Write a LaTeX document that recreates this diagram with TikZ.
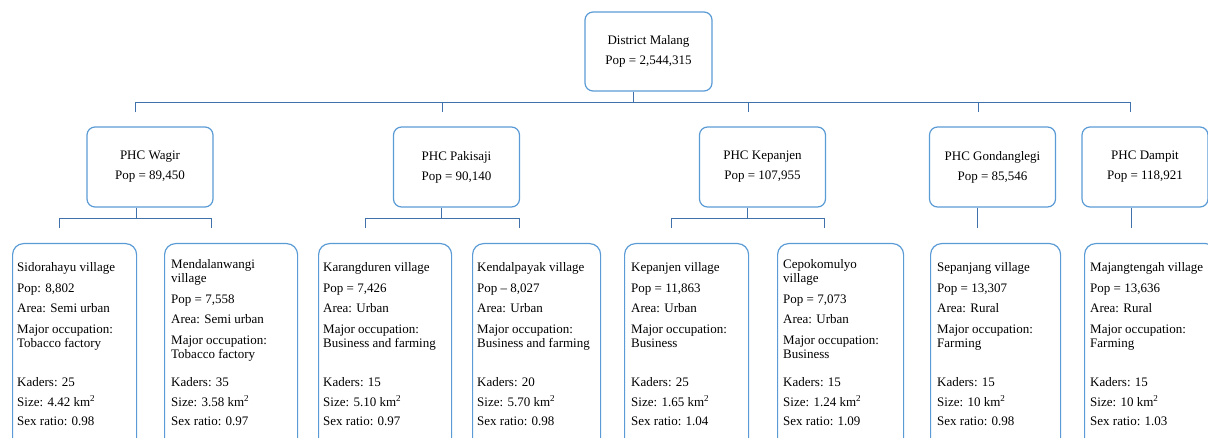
\documentclass[tikz,border=0pt]{standalone}
\usepackage{fontspec}
\setmainfont{Liberation Serif}
\usetikzlibrary{positioning}
\definecolor{boxblue}{RGB}{91,155,213}
\definecolor{linkblue}{RGB}{65,113,170}
\tikzset{
x=1pt, y=-1pt, % one unit is one pixel of the page, y runs downwards
unit/.style={draw=boxblue, line width=1.2pt, rounded corners=8pt, align=center, inner sep=0pt, minimum width=126pt, minimum height=80pt, font=\fontsize{13}{14.5}\selectfont}, % district and PHC boxes
village/.style={draw=boxblue, line width=1.2pt, rounded corners=11pt, anchor=north west, inner sep=0pt, minimum height=210pt}, % village boxes, cut off at the bottom
info/.style={anchor=north west, inner sep=0pt, align=left, font=\fontsize{13}{14.5}\selectfont}, % text inside a village box
link/.style={draw=linkblue, line width=1.1pt}, % the connecting lines
}

\begin{document}
\begin{tikzpicture}
    \useasboundingbox (0,0) rectangle (1208,438);
    \clip (0,0) rectangle (1208,438);

    \node[unit, minimum width=127pt, minimum height=79pt] (dm) at (648.5,51.5) {District Malang\\[5.5pt]Pop = 2,544,315};

    \node[unit] (wagir) at (150,167) {PHC Wagir\\[5.5pt]Pop = 89,450};
    \node[unit] (paki) at (456.5,167) {PHC Pakisaji\\[5.5pt]Pop = 90,140};
    \node[unit] (kepa) at (762.5,167) {PHC Kepanjen\\[5.5pt]Pop = 107,955};
    \node[unit] (gond) at (992.5,167) {PHC Gondanglegi\\[5.5pt]Pop = 85,546};
    \node[unit] (damp) at (1145,167) {PHC Dampit\\[5.5pt]Pop = 118,921};

    \node[village, minimum width=124pt] (sido) at (12,243) {};
    \node[village, minimum width=133pt] (menda) at (164,243) {};
    \node[village, minimum width=133pt] (karang) at (318,243) {};
    \node[village, minimum width=128pt] (kendal) at (472,243) {};
    \node[village, minimum width=124pt] (kepv) at (624,243) {};
    \node[village, minimum width=126pt] (cepo) at (777,243) {};
    \node[village, minimum width=130pt] (sepa) at (930,243) {};
    \node[village, minimum width=132pt] (majang) at (1084,243) {};

    % upper part of each village box
    \node[info, below right=19.3pt and 5pt of sido.north west] (sidoinfo) {Sidorahayu village\\[6pt]Pop: 8,802\\[6pt]Area: Semi urban\\[6pt]Major occupation:\\Tobacco factory};
    \node[info, below right=15.8pt and 7pt of menda.north west] (mendainfo) {Mendalanwangi\\village\\[6pt]Pop = 7,558\\[6pt]Area: Semi urban\\[6pt]Major occupation:\\Tobacco factory};
    \node[info, below right=19.3pt and 5pt of karang.north west] (karanginfo) {Karangduren village\\[6pt]Pop = 7,426\\[6pt]Area: Urban\\[6pt]Major occupation:\\Business and farming};
    \node[info, below right=19.3pt and 5pt of kendal.north west] (kendalinfo) {Kendalpayak village\\[6pt]Pop – 8,027\\[6pt]Area: Urban\\[6pt]Major occupation:\\Business and farming};
    \node[info, below right=19.3pt and 7pt of kepv.north west] (kepvinfo) {Kepanjen village\\[6pt]Pop = 11,863\\[6pt]Area: Urban\\[6pt]Major occupation:\\Business};
    \node[info, below right=15.8pt and 6pt of cepo.north west] (cepoinfo) {Cepokomulyo\\village\\[6pt]Pop = 7,073\\[6pt]Area: Urban\\[6pt]Major occupation:\\Business};
    \node[info, below right=19.3pt and 7pt of sepa.north west] (sepainfo) {Sepanjang village\\[6pt]Pop = 13,307\\[6pt]Area: Rural\\[6pt]Major occupation:\\Farming};
    \node[info, below right=19.3pt and 6pt of majang.north west] (majanginfo) {Majangtengah village\\[6pt]Pop = 13,636\\[6pt]Area: Rural\\[6pt]Major occupation:\\Farming};

    % lower part of each village box
    \node[info, below right=134.3pt and 5pt of sido.north west] (sidostats) {Kaders: 25\\[5pt]Size: 4.42 km\textsuperscript{2}\\[5pt]Sex ratio: 0.98};
    \node[info, below right=134.3pt and 7pt of menda.north west] (mendastats) {Kaders: 35\\[5pt]Size: 3.58 km\textsuperscript{2}\\[5pt]Sex ratio: 0.97};
    \node[info, below right=134.3pt and 5pt of karang.north west] (karangstats) {Kaders: 15\\[5pt]Size: 5.10 km\textsuperscript{2}\\[5pt]Sex ratio: 0.97};
    \node[info, below right=134.3pt and 5pt of kendal.north west] (kendalstats) {Kaders: 20\\[5pt]Size: 5.70 km\textsuperscript{2}\\[5pt]Sex ratio: 0.98};
    \node[info, below right=134.3pt and 7pt of kepv.north west] (kepvstats) {Kaders: 25\\[5pt]Size: 1.65 km\textsuperscript{2}\\[5pt]Sex ratio: 1.04};
    \node[info, below right=134.3pt and 6pt of cepo.north west] (cepostats) {Kaders: 15\\[5pt]Size: 1.24 km\textsuperscript{2}\\[5pt]Sex ratio: 1.09};
    \node[info, below right=134.3pt and 7pt of sepa.north west] (sepastats) {Kaders: 15\\[5pt]Size: 10 km\textsuperscript{2}\\[5pt]Sex ratio: 0.98};
    \node[info, below right=134.3pt and 6pt of majang.north west] (majangstats) {Kaders: 15\\[5pt]Size: 10 km\textsuperscript{2}\\[5pt]Sex ratio: 1.03};

    % free ends of the drops, above each box
    \foreach \b in {wagir, paki, kepa, gond, damp}
        \coordinate (\b-in) at ([xshift=49.5pt, yshift=14pt]\b.north west);
    \foreach \b in {sido, menda, karang, kendal, kepv, cepo, sepa, majang}
        \coordinate (\b-in) at ([xshift=47.5pt, yshift=15pt]\b.north west);

    \draw[link] ([xshift=49pt]dm.south west) -- ++(0,11) coordinate (bus);
    \draw[link] (wagir-in) -- (wagir-in |- bus) -- (damp-in |- bus) -- (damp-in);
    \draw[link] (paki-in |- bus) -- (paki-in);
    \draw[link] (kepa-in |- bus) -- (kepa-in);
    \draw[link] (gond-in |- bus) -- (gond-in);

    \draw[link] ([xshift=50pt]wagir.south west) -- ++(0,11) coordinate (wagirbus);
    \draw[link] (sido-in) -- (sido-in |- wagirbus) -- (menda-in |- wagirbus) -- (menda-in);
    \draw[link] ([xshift=49pt]paki.south west) -- ++(0,11) coordinate (pakibus);
    \draw[link] (karang-in) -- (karang-in |- pakibus) -- (kendal-in |- pakibus) -- (kendal-in);
    \draw[link] ([xshift=49pt]kepa.south west) -- ++(0,11) coordinate (kepabus);
    \draw[link] (kepv-in) -- (kepv-in |- kepabus) -- (cepo-in |- kepabus) -- (cepo-in);
    \draw[link] (gond.south -| sepa-in) -- (sepa-in);
    \draw[link] (damp.south -| majang-in) -- (majang-in);
\end{tikzpicture}
\end{document}
